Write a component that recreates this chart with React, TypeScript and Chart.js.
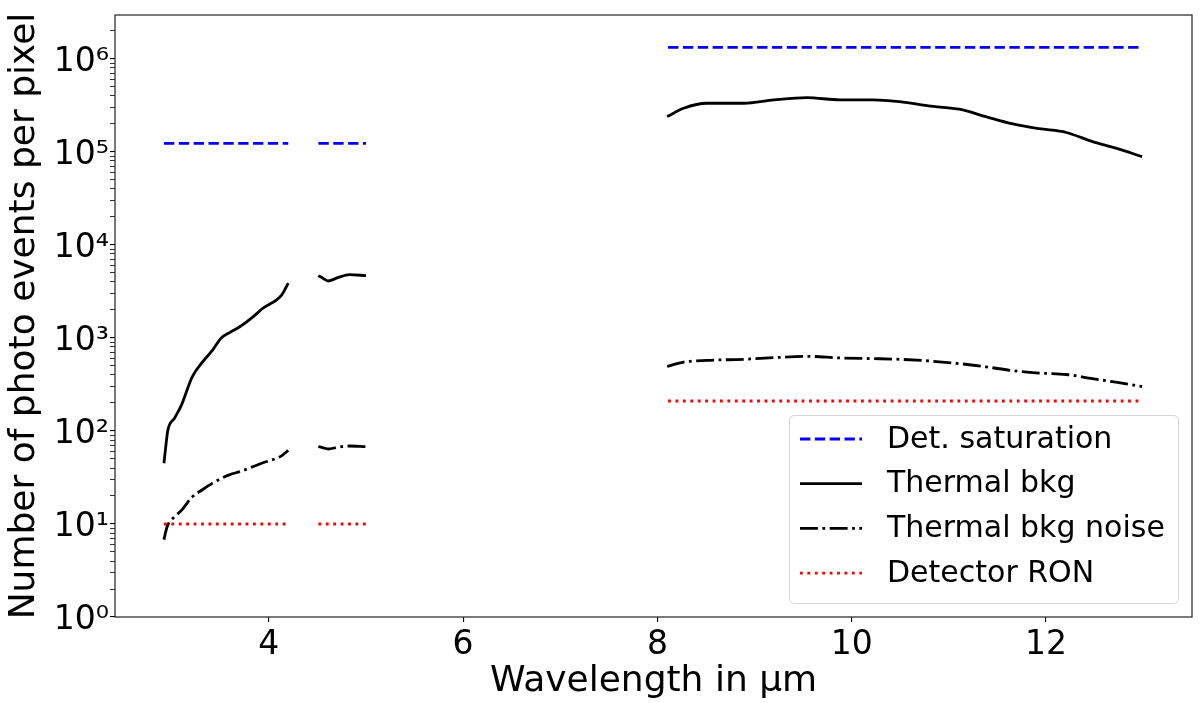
import { useEffect, useRef } from "react"
import { Chart, registerables } from "chart.js"

Chart.register(...registerables)

// wavelength samples (um) for the three bands
const bandL = [2.92, 2.94, 2.96, 3.03, 3.1, 3.21, 3.32, 3.42, 3.51, 3.6, 3.7, 3.84, 3.94, 4.08, 4.13, 4.2]
const bandM = [4.51, 4.56, 4.61, 4.71, 4.83, 5.0]
const bandN = [8.1, 8.27, 8.51, 8.89, 9.2, 9.54, 9.88, 10.22, 10.49, 10.84, 11.11, 11.38, 11.66, 11.93, 12.21, 12.48, 12.72, 12.99]

// thermal background (photo events per pixel)
const thermalL = [45, 70, 102, 138, 190, 380, 556, 740, 1000, 1150, 1320, 1700, 2090, 2570, 2880, 3890]
const thermalM = [4680, 4370, 4100, 4450, 4790, 4680]
const thermalN = [240000, 295000, 334000, 334000, 363000, 384000, 363000, 363000, 347000, 309000, 288000, 240000, 200000, 178000, 162000, 129000, 110000, 89000]

// thermal background noise
const noiseL = [6.8, 8.4, 9.8, 12, 14, 19.5, 23.5, 27.5, 31, 34, 36.5, 41.5, 45.5, 51, 54, 62]
const noiseM = [68, 66, 64, 67, 69, 68]
const noiseN = [495, 550, 575, 590, 615, 635, 610, 600, 590, 562, 530, 490, 445, 420, 405, 365, 335, 300]

// detector saturation and read-out noise, flat over each band
const flatL = [2.92, 4.2]
const flatM = [4.51, 5.0]
const flatN = [8.11, 12.99]
const saturationL = [124000, 124000]
const saturationM = [124000, 124000]
const saturationN = [1330000, 1330000]
const ronL = [10, 10]
const ronM = [10, 10]
const ronN = [210, 210]

const xTicks = [4, 6, 8, 10, 12]
const yMajorTicks = [1, 10, 100, 1000, 10000, 100000, 1000000]
const yTickLabels = ["10⁰", "10¹", "10²", "10³", "10⁴", "10⁵", "10⁶"]
const yMinorSteps = [2, 3, 4, 5, 6, 7, 8, 9]

const X_MIN = 2.416
const X_MAX = 13.504
const Y_MIN = 1
const Y_MAX = 2.97e6

const LW = 2.8
const FONT = "'DejaVu Sans', sans-serif"

type Pt = { x: number; y: number | null }

function joinBands(parts: [number[], number[]][]): Pt[] {
  const out: Pt[] = []
  parts.forEach(([xs, ys], i) => {
    if (i > 0) out.push({ x: xs[0] - 0.01, y: null })
    xs.forEach((x, j) => out.push({ x, y: ys[j] }))
  })
  return out
}

const legendPlugin = {
  id: "boxLegend",
  afterDraw(chart: any) {
    const ctx = chart.ctx as CanvasRenderingContext2D
    const area = chart.chartArea
    const w = 389
    const h = 188
    const x0 = area.right - 14 - w
    const y0 = area.bottom - 14 - h
    ctx.save()
    ctx.beginPath()
    ctx.roundRect(x0 + 0.5, y0 + 0.5, w, h, 5)
    ctx.fillStyle = "rgba(255,255,255,0.8)"
    ctx.fill()
    ctx.strokeStyle = "#d5d5d5"
    ctx.lineWidth = 1
    ctx.stroke()
    ctx.font = `30px ${FONT}`
    ctx.textBaseline = "middle"
    ctx.textAlign = "left"
    chart.data.datasets.forEach((ds: any, i: number) => {
      const yy = y0 + 24 + i * 44.7
      ctx.beginPath()
      ctx.setLineDash(ds.borderDash || [])
      ctx.lineCap = "butt"
      ctx.strokeStyle = ds.borderColor
      ctx.lineWidth = LW
      ctx.moveTo(x0 + 11, yy)
      ctx.lineTo(x0 + 73, yy)
      ctx.stroke()
      ctx.setLineDash([])
      ctx.fillStyle = "#000"
      ctx.fillText(ds.label, x0 + 98, yy + 1)
    })
    ctx.restore()
  },
}

const framePlugin = {
  id: "frame",
  afterDatasetsDraw(chart: any) {
    const ctx = chart.ctx as CanvasRenderingContext2D
    const { left, top, right, bottom } = chart.chartArea
    ctx.save()
    ctx.strokeStyle = "#222"
    ctx.lineWidth = 1.2
    ctx.strokeRect(left, top, right - left, bottom - top)
    ctx.restore()
  },
}

export default function App() {
  const chartRef = useRef<HTMLCanvasElement>(null)
  const chartInstance = useRef<Chart | null>(null)

  useEffect(() => {
    if (!chartRef.current) return
    if (chartInstance.current) chartInstance.current.destroy()
    const ctx = chartRef.current.getContext("2d")
    if (!ctx) return

    const yTicks: number[] = []
    yMajorTicks.forEach((d) => {
      yTicks.push(d)
      yMinorSteps.forEach((m) => {
        if (d * m <= Y_MAX) yTicks.push(d * m)
      })
    })
    const isMajor = (v: number) => yMajorTicks.includes(v)

    chartInstance.current = new Chart(ctx, {
      type: "line",
      data: {
        datasets: [
          {
            label: "Det. saturation",
            data: joinBands([[flatL, saturationL], [flatM, saturationM], [flatN, saturationN]]),
            borderColor: "#0000ff",
            borderDash: [3.7 * LW, 1.6 * LW],
          },
          {
            label: "Thermal bkg",
            data: joinBands([[bandL, thermalL], [bandM, thermalM], [bandN, thermalN]]),
            borderColor: "#000000",
          },
          {
            label: "Thermal bkg noise",
            data: joinBands([[bandL, noiseL], [bandM, noiseM], [bandN, noiseN]]),
            borderColor: "#000000",
            borderDash: [6.4 * LW, 1.6 * LW, 1 * LW, 1.6 * LW],
          },
          {
            label: "Detector RON",
            data: joinBands([[flatL, ronL], [flatM, ronM], [flatN, ronN]]),
            borderColor: "#ff0000",
            borderDash: [1 * LW, 1.65 * LW],
          },
        ] as any,
      },
      options: {
        animation: false,
        responsive: true,
        maintainAspectRatio: false,
        parsing: true,
        layout: { padding: { top: 15, right: 8, left: 0, bottom: 0 } },
        elements: {
          point: { radius: 0 },
          line: { borderWidth: LW, cubicInterpolationMode: "monotone", borderCapStyle: "butt" },
        },
        scales: {
          x: {
            type: "linear",
            min: X_MIN,
            max: X_MAX,
            afterBuildTicks: (scale: any) => {
              scale.ticks = xTicks.map((v) => ({ value: v }))
            },
            afterFit: (scale: any) => {
              scale.height = 86
              scale.paddingLeft = 0
              scale.paddingRight = 0
            },
            grid: { drawOnChartArea: false, drawTicks: true, tickLength: 5, color: "#000", lineWidth: 1.1 },
            border: { display: false },
            ticks: {
              autoSkip: false,
              maxRotation: 0,
              padding: 4,
              color: "#000",
              font: { family: FONT, size: 33 },
              callback: (v: any) => String(v),
            },
            title: {
              display: true,
              text: "Wavelength in μm",
              color: "#000",
              font: { family: FONT, size: 36 },
              padding: { top: 0, bottom: 0 },
            },
          },
          y: {
            type: "logarithmic",
            min: Y_MIN,
            max: Y_MAX,
            afterBuildTicks: (scale: any) => {
              scale.ticks = yTicks.map((v) => ({ value: v }))
            },
            afterFit: (scale: any) => {
              scale.width = 115
              scale.paddingTop = 0
              scale.paddingBottom = 0
            },
            grid: {
              drawOnChartArea: false,
              drawTicks: true,
              tickLength: 5,
              color: "#000",
              lineWidth: (c: any) => (c.tick && isMajor(c.tick.value) ? 1.1 : 0.8),
            },
            border: { display: false },
            ticks: {
              autoSkip: false,
              padding: 1,
              labelOffset: 3,
              color: "#000",
              font: { family: FONT, size: 33 },
              callback: (v: any) => {
                const i = yMajorTicks.indexOf(Number(v))
                return i >= 0 ? yTickLabels[i] : ""
              },
            },
            title: {
              display: true,
              text: "Number of photo events per pixel",
              color: "#000",
              font: { family: FONT, size: 36 },
              padding: { top: 3, bottom: 0 },
            },
          },
        },
        plugins: {
          legend: { display: false },
          tooltip: { enabled: false },
        },
      },
      plugins: [framePlugin, legendPlugin],
    })

    return () => {
      if (chartInstance.current) {
        chartInstance.current.destroy()
        chartInstance.current = null
      }
    }
  }, [])

  return (
    <div style={{ position: "fixed", left: 0, top: 0, width: 1200, height: 703, background: "#fff" }}>
      <canvas ref={chartRef}></canvas>
    </div>
  )
}
